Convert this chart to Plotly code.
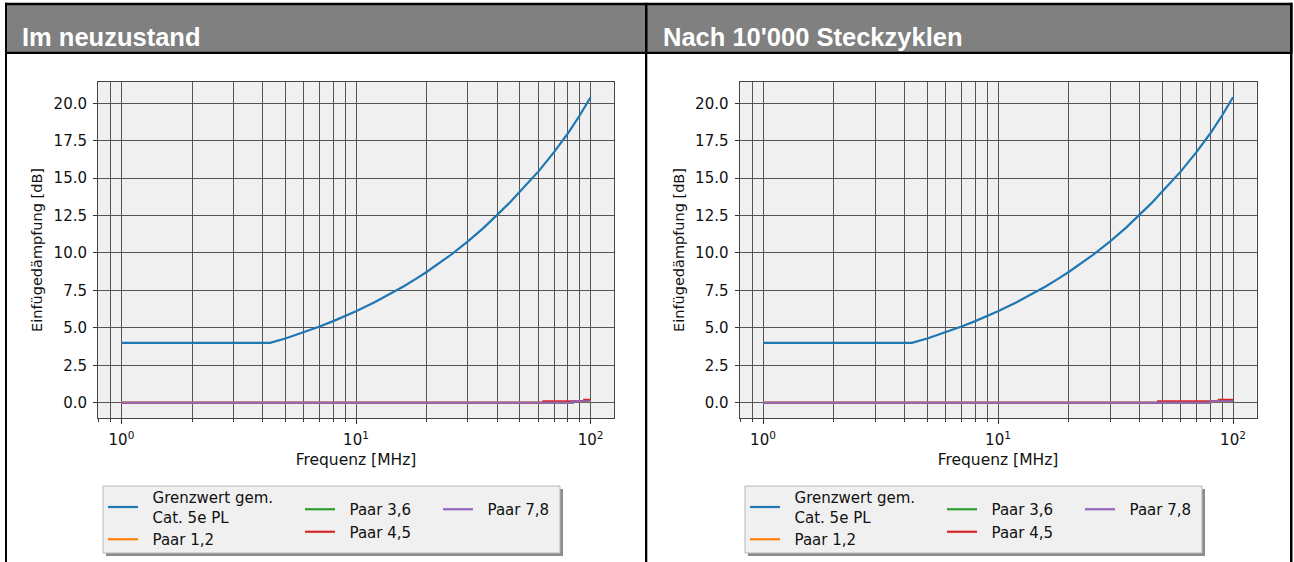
import plotly.graph_objects as go

W, H = 1294, 562

# ---------------- data ----------------
panel_titles = ["Im neuzustand", "Nach 10'000 Steckzyklen"]
series_names = ["Grenzwert gem.<br>Cat. 5e PL", "Paar 1,2", "Paar 3,6", "Paar 4,5", "Paar 7,8"]
series_colors = ["#1f77b4", "#ff7f0e", "#2ca02c", "#d62728", "#9467bd"]

# limit curve (same for both panels)
freq_limit = [1, 4.3, 5, 6, 7, 8, 9, 10, 12, 14, 16, 18, 20, 25, 30, 35, 40, 45, 50, 60, 70, 80, 90, 100]
limit_db = [4.0, 4.0, 4.29, 4.70, 5.09, 5.45, 5.79, 6.11, 6.71, 7.26, 7.78, 8.27, 8.73, 9.80,
            10.78, 11.68, 12.53, 13.33, 14.10, 15.45, 16.75, 17.98, 19.2, 20.4]

# measured pairs - new state
new_f_12 = [1, 84, 100]
new_db_12 = [0.0, 0.1, 0.1]
new_f_36 = [1, 84, 100]
new_db_36 = [0.0, 0.1, 0.1]
new_f_45 = [1, 63, 94, 100]
new_db_45 = [0.0, 0.1, 0.2, 0.2]
new_f_78 = [1, 84, 100]
new_db_78 = [0.0, 0.1, 0.1]

# measured pairs - after 10'000 cycles
old_f_12 = [1, 80, 100]
old_db_12 = [0.0, 0.1, 0.1]
old_f_36 = [1, 80, 100]
old_db_36 = [0.0, 0.1, 0.1]
old_f_45 = [1, 48, 87, 100]
old_db_45 = [0.0, 0.1, 0.2, 0.2]
old_f_78 = [1, 80, 100]
old_db_78 = [0.0, 0.1, 0.1]

x_major = [1, 10, 100]
x_major_text = ["10<sup>0</sup>", "10<sup>1</sup>", "10<sup>2</sup>"]
x_minor = [0.8, 0.9, 2, 3, 4, 5, 6, 7, 8, 9, 20, 30, 40, 50, 60, 70, 80, 90]
y_ticks = [0.0, 2.5, 5.0, 7.5, 10.0, 12.5, 15.0, 17.5, 20.0]

# ---------------- helpers ----------------
def X(px):
    return px / W

def Y(py):
    return 1 - py / H

GRID = "#555555"
FONT = "DejaVu Sans"
PAD = "\u00a0\u00a0"

fig = go.Figure()

panels = [
    dict(xa="x", ya="y", legs=["legend", "legend2", "legend3"],
         data=[(freq_limit, limit_db), (new_f_12, new_db_12), (new_f_36, new_db_36),
               (new_f_45, new_db_45), (new_f_78, new_db_78)]),
    dict(xa="x2", ya="y2", legs=["legend4", "legend5", "legend6"],
         data=[(freq_limit, limit_db), (old_f_12, old_db_12), (old_f_36, old_db_36),
               (old_f_45, old_db_45), (old_f_78, old_db_78)]),
]
leg_of_series = [0, 0, 1, 1, 2]

for p in panels:
    for i, (fx, fy) in enumerate(p["data"]):
        label = "<br>".join(PAD + part for part in series_names[i].split("<br>"))
        fig.add_trace(go.Scatter(
            x=fx, y=fy, mode="lines", name=label,
            line=dict(color=series_colors[i], width=2.2,
                      shape="linear" if i == 0 else "hv"),
            xaxis=p["xa"], yaxis=p["ya"], legend=p["legs"][leg_of_series[i]],
            showlegend=True,
        ))

def xaxis_cfg(domain, anchor):
    return dict(
        domain=domain, anchor=anchor, type="log", range=[-0.1, 2.1],
        tickmode="array", tickvals=x_major, ticktext=x_major_text,
        ticks="outside", ticklen=5, tickwidth=1, tickcolor="#333",
        ticklabelstandoff=3,
        showgrid=True, gridcolor=GRID, gridwidth=1,
        minor=dict(tickvals=x_minor, ticks="outside", ticklen=3, tickwidth=1,
                   tickcolor="#333", showgrid=True, gridcolor=GRID, gridwidth=1),
        showline=True, linecolor="#444", linewidth=1, mirror=True, zeroline=False,
        tickfont=dict(family=FONT, size=15, color="#111"),
        title=dict(text="Frequenz [MHz]", font=dict(family=FONT, size=15.5, color="#111"), standoff=6),
    )

def yaxis_cfg(domain, anchor):
    return dict(
        domain=domain, anchor=anchor, range=[-1.02, 21.42],
        tickmode="array", tickvals=y_ticks, ticktext=[f"{v:.1f}" for v in y_ticks],
        ticks="outside", ticklen=4, tickwidth=1, tickcolor="#333",
        ticklabelstandoff=3,
        showgrid=True, gridcolor=GRID, gridwidth=1,
        showline=True, linecolor="#444", linewidth=1, mirror=True, zeroline=False,
        tickfont=dict(family=FONT, size=15, color="#111"),
        title=dict(text="Einfügedämpfung [dB]", font=dict(family=FONT, size=14.5, color="#111"), standoff=7),
    )

ydom = [Y(418), Y(82)]
layout = dict(
    width=W, height=H, margin=dict(l=0, r=0, t=0, b=0),
    paper_bgcolor="white", plot_bgcolor="#f0f0f0",
    xaxis=xaxis_cfg([X(98), X(614)], "y"),
    yaxis=yaxis_cfg(ydom, "x"),
    xaxis2=xaxis_cfg([X(739.5), X(1256.5)], "y2"),
    yaxis2=yaxis_cfg(ydom, "x2"),
)

# legends: three columns per panel
leg_cols = [[103, 300, 438], [745, 942, 1080]]
leg_tops = [481, 493, 493]
k = 0
for pi in range(2):
    for ci in range(3):
        name = "legend" if k == 0 else f"legend{k+1}"
        layout[name] = dict(
            x=X(leg_cols[pi][ci]), y=Y(leg_tops[ci]), xanchor="left", yanchor="top",
            orientation="v", bgcolor="rgba(0,0,0,0)", borderwidth=0,
            font=dict(family=FONT, size=15, color="#111"),
            itemwidth=30, tracegroupgap=0,
        )
        k += 1

fig.update_layout(**layout)

shapes = []
# header block & frame
shapes.append(dict(type="rect", xref="paper", yref="paper", x0=X(5), x1=X(1292.5), y0=Y(54), y1=Y(2.7),
                   fillcolor="black", line=dict(width=0), layer="above"))
shapes.append(dict(type="rect", xref="paper", yref="paper", x0=X(7), x1=X(645), y0=Y(51.7), y1=Y(5.3),
                   fillcolor="#808080", line=dict(width=0), layer="above"))
shapes.append(dict(type="rect", xref="paper", yref="paper", x0=X(647.3), x1=X(1290), y0=Y(51.7), y1=Y(5.3),
                   fillcolor="#808080", line=dict(width=0), layer="above"))
for (a, b) in [(5, 7), (645, 647.3), (1290, 1292.5)]:
    shapes.append(dict(type="rect", xref="paper", yref="paper", x0=X(a), x1=X(b), y0=0, y1=Y(2.7),
                       fillcolor="black", line=dict(width=0), layer="above"))
# legend boxes with shadow
for (lx0, lx1) in [(103, 560), (745, 1202)]:
    shapes.append(dict(type="rect", xref="paper", yref="paper", x0=X(lx0 + 3), x1=X(lx1 + 3),
                       y0=Y(553 + 3), y1=Y(486 + 3), fillcolor="#8c8c8c", line=dict(width=0), layer="above"))
    shapes.append(dict(type="rect", xref="paper", yref="paper", x0=X(lx0), x1=X(lx1),
                       y0=Y(553), y1=Y(486), fillcolor="#f0f0f0", line=dict(color="#b8b8b8", width=1),
                       layer="above"))
fig.update_layout(shapes=shapes)

annotations = []
for tx, t in zip([20, 661], panel_titles):
    annotations.append(dict(text=f"<b>{t}</b>", xref="paper", yref="paper", x=X(tx), y=Y(36.5),
                            xanchor="left", yanchor="middle", showarrow=False,
                            font=dict(family="Liberation Sans", size=25.5, color="white")))
fig.update_layout(annotations=annotations)

fig.write_html("out.html", config={"displayModeBar": False},
               post_script="document.body.style.margin='0px';")
